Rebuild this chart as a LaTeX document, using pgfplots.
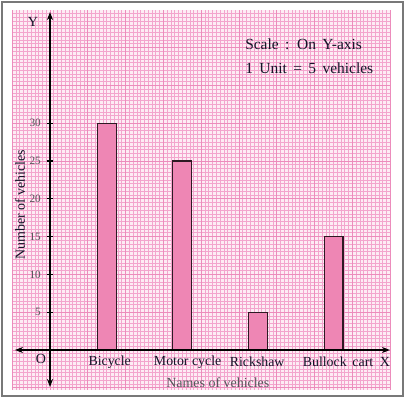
\documentclass[border=0pt]{standalone}
\usepackage{fontspec}
\setmainfont{Liberation Serif}
\usepackage{pgfplots}
\pgfplotsset{compat=1.18}
\usetikzlibrary{arrows.meta}
\definecolor{gridpink}{RGB}{243,165,205}
\definecolor{gridmaj}{RGB}{236,140,188}
\definecolor{bgpink}{RGB}{253,236,244}
\definecolor{barpink}{RGB}{238,134,180}
\definecolor{bardraw}{RGB}{45,25,35}
\definecolor{txt}{RGB}{20,20,40}
\definecolor{ticktxt}{RGB}{85,85,90}
\definecolor{frame}{RGB}{120,120,120}
\begin{document}
\begin{tikzpicture}
\begin{axis}[
  x=7.56bp, y=7.56bp,
  xmin=-5.03, xmax=45.1, ymin=-5.29, ymax=44.97,
  axis line style={draw=none},
  axis background/.style={fill=bgpink},
  xtick={-5,-4.5,...,45}, ytick={-5,-4.5,...,44.5},
  xticklabels={}, yticklabels={},
  major tick length=0pt,
  grid=major,
  major grid style={draw=gridpink, line width=0.7bp},
  extra x ticks={-5,0,...,45}, extra y ticks={-5,0,...,40},
  extra x tick labels={}, extra y tick labels={},
  extra tick style={major grid style={draw=gridmaj, line width=0.9bp}},
  clip=false,
]
\addplot[ybar, bar width=2.5, fill=barpink, draw=bardraw, line width=1.1bp]
  coordinates {(7.5,30) (17.5,25) (27.5,5) (37.5,15)};
% axes
\draw[line width=1.2bp, black, {Stealth[length=8bp,width=6bp]}-{Stealth[length=8bp,width=6bp]}]
  (axis cs:0,-4.9) -- (axis cs:0,44.7);
\draw[line width=1.2bp, black, {Stealth[length=8bp,width=6bp]}-{Stealth[length=8bp,width=6bp]}]
  (axis cs:-4.63,0) -- (axis cs:44.97,0);
% y ticks
\pgfplotsinvokeforeach{5,10,15,20,25,30}{
  \draw[line width=1.1bp, black] (axis cs:-0.46,#1) -- (axis cs:0.46,#1);
  \node[anchor=east, inner sep=0pt, text=ticktxt, font=\fontsize{11.3}{12}\selectfont] at (axis cs:-1.19,#1) {#1};
}
% category labels
\node[text=txt, font=\fontsize{13.9}{15}\selectfont] at (axis cs:7.9,-1.6) {Bicycle};
\node[text=txt, font=\fontsize{13.9}{15}\selectfont] at (axis cs:18.2,-1.6) {Motor cycle};
\node[text=txt, font=\fontsize{13.9}{15}\selectfont] at (axis cs:27.4,-1.6) {Rickshaw};
\node[text=txt, font=\fontsize{13.9}{15}\selectfont] at (axis cs:38.1,-1.6) {Bullock\, cart};
\node[text=txt, font=\fontsize{14}{15}\selectfont] at (axis cs:44.3,-1.6) {X};
\node[text=txt, font=\fontsize{14}{15}\selectfont] at (axis cs:-1.2,-1.2) {O};
\node[text=txt, font=\fontsize{14}{15}\selectfont] at (axis cs:-2.25,43.4) {Y};
\node[text=ticktxt, font=\fontsize{14}{15}\selectfont] at (axis cs:22.2,-4.35) {Names of vehicles};
\node[text=txt, rotate=90, font=\fontsize{14}{15}\selectfont] at (axis cs:-3.97,19.2) {Number of vehicles};
\node[anchor=west, inner sep=0pt, text=txt, font=\fontsize{15.5}{16}\selectfont] at (axis cs:25.8,40.5) {Scale\, :\, On\, Y-axis};
\node[anchor=west, inner sep=0pt, text=txt, font=\fontsize{15.5}{16}\selectfont] at (axis cs:25.8,37.3) {1\, Unit\, =\, 5\, vehicles};
% outer frame
\draw[frame, line width=1.2bp] (axis cs:-6.35,46.03) rectangle (axis cs:46.69,-6.08);
\coordinate (bbl) at (axis cs:-6.614,-6.614);
\coordinate (btr) at (axis cs:46.958,46.296);
\end{axis}
\pgfresetboundingbox
\path[use as bounding box] (bbl) rectangle (btr);
\end{tikzpicture}
\end{document}
